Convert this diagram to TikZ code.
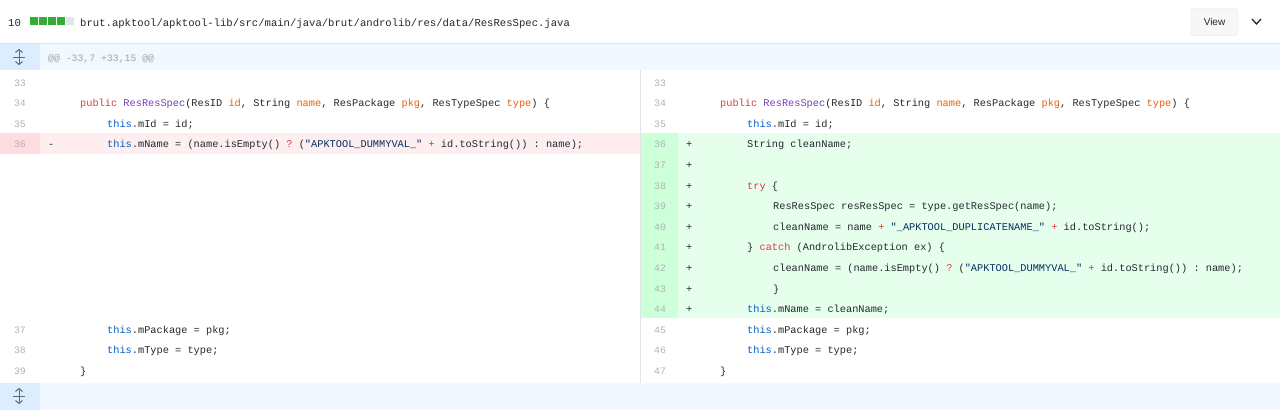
\documentclass[tikz,border=0pt]{standalone}
\usepackage{fontspec}
\setmonofont{Liberation Mono}
\setmainfont{Liberation Sans}
\definecolor{kw}{HTML}{005CC5}
\definecolor{rd}{HTML}{D73A49}
\definecolor{pu}{HTML}{6F42C1}
\definecolor{orn}{HTML}{E36209}
\definecolor{st}{HTML}{032F62}
\definecolor{lnum}{HTML}{B0B3B8}
\definecolor{txt}{HTML}{24292E}
\definecolor{delbg}{HTML}{FFEEF0}
\definecolor{delg}{HTML}{FFDCE0}
\definecolor{addbg}{HTML}{E6FFED}
\definecolor{addg}{HTML}{CDFFD8}
\definecolor{hbg}{HTML}{F1F8FF}
\definecolor{hg}{HTML}{DBEDFF}
\definecolor{bord}{HTML}{E1E4E8}
\newcommand{\kwd}[1]{\textcolor{kw}{#1}}
\newcommand{\red}[1]{\textcolor{rd}{#1}}
\newcommand{\pur}[1]{\textcolor{pu}{#1}}
\newcommand{\orn}[1]{\textcolor{orn}{#1}}
\newcommand{\str}[1]{\textcolor{st}{#1}}
\tikzset{
 code/.style={anchor=base west,inner sep=0pt,font=\ttfamily\fontsize{10.3}{12}\selectfont,text=txt},
 num/.style={anchor=base,inner sep=0pt,font=\ttfamily\fontsize{9.8}{12}\selectfont,text=lnum},
 expander/.pic={
  \begin{scope}[draw=txt!70,line width=1pt]
  \draw (-6,0) -- (6,0);
  \draw (0,-7) -- (0,7);
  \draw (-3.5,-4.5) -- (0,-7.5) -- (3.5,-4.5);
  \draw (-3.5,4.5) -- (0,7.5) -- (3.5,4.5);
  \end{scope}
 },
}
\begin{document}
\begin{tikzpicture}[x=1pt,y=-1pt]
\useasboundingbox (0,0) rectangle (1280,410);
\fill[white] (0,0) rectangle (1280,410);
% header
\draw[bord] (0,43.5) -- (1280,43.5);
\node[code,font=\ttfamily\fontsize{10.6}{12}\selectfont] (cnt) at (8,26) {10};
\foreach \i in {0,1,2,3} \fill[green!60!black!80] (30+\i*9,17) rectangle +(7.5,8);
\fill[bord] (66,17) rectangle +(7.5,8);
\node[code,font=\ttfamily\fontsize{10.6}{12}\selectfont] (path) at (80,26) {brut.apktool/apktool-lib/src/main/java/brut/androlib/res/data/ResResSpec.java};
\node[draw=bord,fill=white!97!black,rounded corners=3pt,minimum width=47pt,minimum height=27pt,font=\fontsize{10}{12}\selectfont,text=txt] (view) at (1214.5,22) {View};
\draw[txt,line width=1.3pt] (1252,19) -- (1256.5,24) -- (1261,19);
% hunk header
\fill[hbg] (0,44) rectangle (1280,70);
\fill[hg] (0,44) rectangle (40,70);
\node[code,text=gray!70,font=\ttfamily\fontsize{9.8}{12}\selectfont] (hunk) at (48,61) {@@ -33,7 +33,15 @@};
\pic at (19,57) {expander};
% bottom band
\fill[hbg] (0,383) rectangle (1280,410);
\fill[hg] (0,383) rectangle (40,410);
\pic at (19,396) {expander};
% del/add bg
\fill[delbg] (0,133) rectangle (640,154);
\fill[delg] (0,133) rectangle (40,154);
\fill[addbg] (640,133) rectangle (1280,318);
\fill[addg] (640,133) rectangle (678,318);
\draw[bord] (640,70) -- (640,383);
% left lines
\newcommand{\yy}[1]{\fpeval{86+20.6*#1}}
\node[num] (l33) at (20,\yy{0}) {33};
\node[num] (l34) at (20,\yy{1}) {34};
\node[code] (c34) at (80,\yy{1}) {\red{public} \pur{ResResSpec}(ResID \orn{id}, String \orn{name}, ResPackage \orn{pkg}, ResTypeSpec \orn{type}) \{};
\node[num] (l35) at (20,\yy{2}) {35};
\node[code] (c35) at (107,\yy{2}) {\kwd{this}.mId = id;};
\node[num] (l36) at (20,\yy{3}) {36};
\node[code] (m36) at (48,\yy{3}) {-};
\node[code] (c36) at (107,\yy{3}) {\kwd{this}.mName = (name.isEmpty() \red{?} (\str{"APKTOOL\_DUMMYVAL\_"} \red{+} id.toString()) : name);};
\node[num] (l37) at (20,\yy{12}) {37};
\node[code] (c37) at (107,\yy{12}) {\kwd{this}.mPackage = pkg;};
\node[num] (l38) at (20,\yy{13}) {38};
\node[code] (c38) at (107,\yy{13}) {\kwd{this}.mType = type;};
\node[num] (l39) at (20,\yy{14}) {39};
\node[code] (c39) at (80,\yy{14}) {\}};
% right lines
\node[num] (r33) at (660,\yy{0}) {33};
\node[num] (r34) at (660,\yy{1}) {34};
\node[code] (d34) at (720,\yy{1}) {\red{public} \pur{ResResSpec}(ResID \orn{id}, String \orn{name}, ResPackage \orn{pkg}, ResTypeSpec \orn{type}) \{};
\node[num] (r35) at (660,\yy{2}) {35};
\node[code] (d35) at (747,\yy{2}) {\kwd{this}.mId = id;};
\foreach \n/\i in {36/3,37/4,38/5,39/6,40/7,41/8,42/9,43/10,44/11}{
 \node[num] (r\n) at (660,\yy{\i}) {\n};
 \node[code] (p\n) at (686,\yy{\i}) {+};
}
\node[code] (d36) at (747,\yy{3}) {String cleanName;};
\node[code] (d38) at (747,\yy{5}) {\red{try} \{};
\node[code] (d39) at (773,\yy{6}) {ResResSpec resResSpec = type.getResSpec(name);};
\node[code] (d40) at (773,\yy{7}) {cleanName = name \red{+} \str{"\_APKTOOL\_DUPLICATENAME\_"} \red{+} id.toString();};
\node[code] (d41) at (747,\yy{8}) {\} \red{catch} (AndrolibException ex) \{};
\node[code] (d42) at (773,\yy{9}) {cleanName = (name.isEmpty() \red{?} (\str{"APKTOOL\_DUMMYVAL\_"} \red{+} id.toString()) : name);};
\node[code] (d43) at (773,\yy{10}) {\}};
\node[code] (d44) at (747,\yy{11}) {\kwd{this}.mName = cleanName;};
\node[num] (r45) at (660,\yy{12}) {45};
\node[code] (d45) at (747,\yy{12}) {\kwd{this}.mPackage = pkg;};
\node[num] (r46) at (660,\yy{13}) {46};
\node[code] (d46) at (747,\yy{13}) {\kwd{this}.mType = type;};
\node[num] (r47) at (660,\yy{14}) {47};
\node[code] (d47) at (720,\yy{14}) {\}};
\end{tikzpicture}
\end{document}
